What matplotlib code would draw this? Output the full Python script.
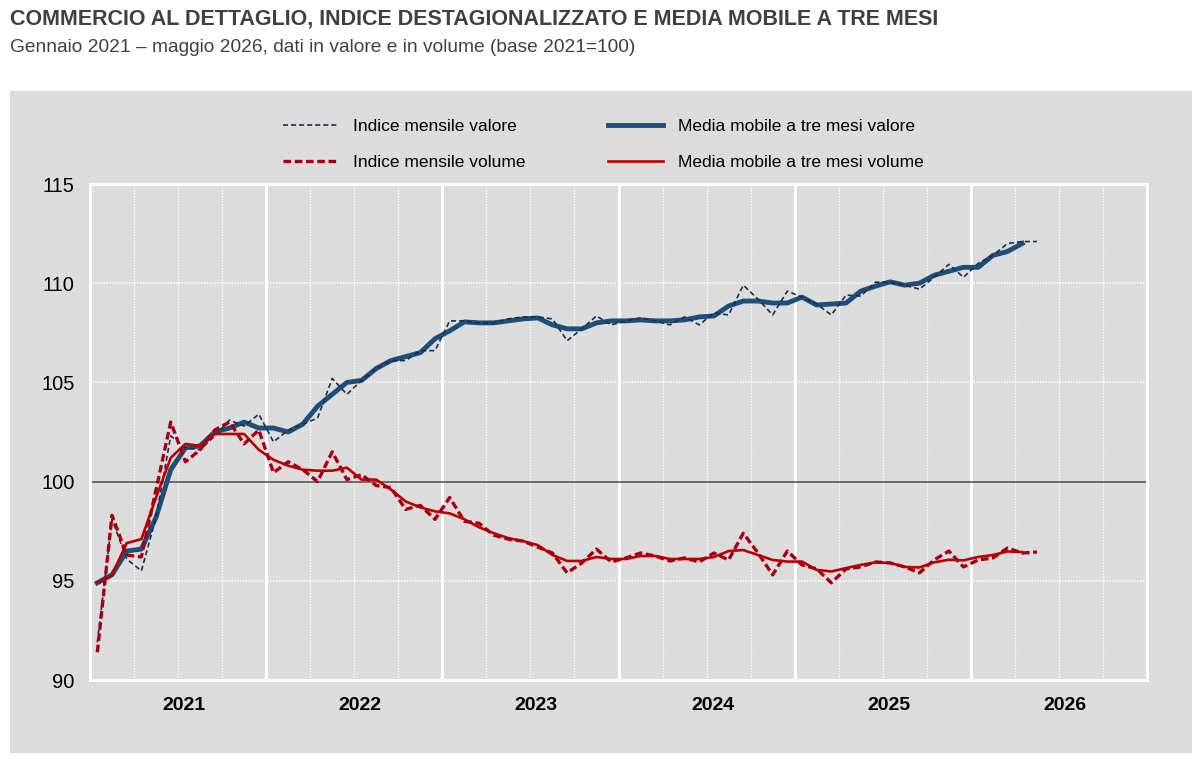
import matplotlib
matplotlib.use("Agg")
import matplotlib.pyplot as plt
from matplotlib.patches import Rectangle
import numpy as np

# ---------------- data ----------------
years = ["2021", "2022", "2023", "2024", "2025", "2026"]

valore_mensile = [
    91.9, 98.1, 96.1, 95.5, 98.2, 102.3, 101.7, 101.6, 102.3, 103.1, 102.8, 103.4,
    102.0, 102.6, 102.9, 103.2, 105.2, 104.4, 105.1, 105.7, 106.1, 106.1, 106.6, 106.6,
    108.1, 108.1, 108.0, 108.0, 108.2, 108.3, 108.3, 108.2, 107.1, 107.7, 108.35, 107.9,
    108.1, 108.25, 108.1, 107.9, 108.3, 107.9, 108.5, 108.4, 109.9, 109.2, 108.4, 109.6,
    109.3, 108.95, 108.4, 109.4, 109.35, 110.05, 110.05, 109.9, 109.7, 110.3, 110.95, 110.3,
    111.0, 111.4, 112.0, 112.1, 112.1,
]
valore_media = [
    94.9, 95.3, 96.5, 96.6, 98.2, 100.6, 101.7, 101.8, 102.5, 102.7, 103.0, 102.7,
    102.7, 102.5, 102.9, 103.8, 104.4, 105.0, 105.1, 105.7, 106.1, 106.3, 106.5, 107.2,
    107.6, 108.05, 108.0, 108.0, 108.1, 108.2, 108.25, 107.9, 107.7, 107.7, 108.0, 108.1,
    108.1, 108.15, 108.1, 108.1, 108.15, 108.3, 108.35, 108.85, 109.1, 109.1, 109.0, 109.0,
    109.3, 108.9, 108.95, 109.0, 109.6, 109.85, 110.07, 109.9, 110.0, 110.4, 110.6, 110.8,
    110.8, 111.4, 111.6, 112.0,
]
volume_mensile = [
    91.4, 98.3, 96.3, 96.2, 99.6, 103.0, 101.0, 101.6, 102.6, 103.0, 101.9, 102.6,
    100.45, 101.0, 100.6, 100.0, 101.5, 100.1, 100.35, 99.8, 99.7, 98.6, 98.8, 98.1,
    99.2, 98.0, 97.9, 97.3, 97.1, 97.0, 96.7, 96.4, 95.4, 95.9, 96.6, 95.95,
    96.15, 96.4, 96.25, 96.0, 96.15, 95.95, 96.4, 96.05, 97.4, 96.4, 95.3, 96.5,
    95.8, 95.6, 94.9, 95.6, 95.7, 95.95, 95.9, 95.7, 95.4, 96.05, 96.5, 95.7,
    96.05, 96.15, 96.65, 96.4, 96.45,
]
volume_media = [
    94.9, 95.3, 96.9, 97.1, 99.2, 101.2, 101.9, 101.8, 102.4, 102.4, 102.4, 101.6,
    101.1, 100.8, 100.6, 100.55, 100.55, 100.7, 100.1, 100.1, 99.6, 99.0, 98.7, 98.5,
    98.4, 98.1, 97.7, 97.4, 97.15, 97.0, 96.8, 96.3, 96.0, 96.0, 96.2, 96.1,
    96.1, 96.25, 96.25, 96.1, 96.1, 96.1, 96.2, 96.5, 96.55, 96.3, 96.05, 95.97,
    95.97, 95.55, 95.47, 95.64, 95.8, 95.93, 95.9, 95.7, 95.67, 95.93, 96.06, 96.03,
    96.2, 96.3, 96.48, 96.45,
]

labels = [
    "Indice mensile valore",
    "Indice mensile volume",
    "Media mobile a tre mesi valore",
    "Media mobile a tre mesi volume",
]
title = "COMMERCIO AL DETTAGLIO, INDICE DESTAGIONALIZZATO E MEDIA MOBILE A TRE MESI"
subtitle = "Gennaio 2021 \u2013 maggio 2026, dati in valore e in volume (base 2021=100)"

# ---------------- style ----------------
plt.rcParams["font.family"] = ["Liberation Sans", "DejaVu Sans"]
plt.rcParams["lines.scale_dashes"] = False

W, H = 1200, 760
fig = plt.figure(figsize=(W / 100, H / 100), dpi=100, facecolor="white")

PANEL = "#DCDCDC"
fig.patches.append(Rectangle((10 / W, 1 - 753 / H), 1182 / W, (753 - 91) / H,
                             transform=fig.transFigure, facecolor=PANEL,
                             edgecolor="none", zorder=-10))

fig.text(10 / W, 1 - 19 / H, title, fontsize=15.5, fontweight="bold", color="#404040",
         ha="left", va="center")
fig.text(10 / W, 1 - 48 / H, subtitle, fontsize=13.8, color="#404040",
         ha="left", va="center")

left, right, top, bottom = 90, 1147, 184, 680
ax = fig.add_axes([left / W, 1 - bottom / H, (right - left) / W, (bottom - top) / H])
ax.set_zorder(2)
ax.set_facecolor(PANEL)
for s in ax.spines.values():
    s.set_color("white")
    s.set_linewidth(2.2)

n_months = len(years) * 12
ax.set_xlim(0, n_months)
ax.set_ylim(90, 115)

# gridlines
for m in range(3, n_months, 3):
    if m % 12 == 0:
        ax.axvline(m, color="white", lw=2.2, zorder=1)
    else:
        ax.axvline(m, color="white", lw=1.0, ls=(0, (1, 1)), zorder=1)
for yv in (95, 105, 110):
    ax.axhline(yv, color="white", lw=1.2, ls=(0, (1, 1)), zorder=1)
ax.axhline(100, color="#4A4A4A", lw=1.1, zorder=1.5)

x_m = np.arange(len(valore_mensile)) + 0.5
x_a = np.arange(len(valore_media)) + 0.5

BLUE_MA = "#1F4E79"
BLUE_D = "#1A2F4F"
RED_MA = "#C00000"
RED_D = "#A80010"

l1, = ax.plot(x_a, valore_media, color=BLUE_MA, lw=3.5, zorder=2, solid_joinstyle="round")
l2, = ax.plot(x_m, valore_mensile, color=BLUE_D, lw=1.2, dashes=(3.6, 2.2), zorder=3)
l3, = ax.plot(x_a, volume_media, color=RED_MA, lw=1.9, zorder=4, solid_joinstyle="round")
l4, = ax.plot(x_m, volume_mensile, color=RED_D, lw=2.4, dashes=(5.5, 2.6), zorder=5)

ax.set_yticks([90, 95, 100, 105, 110, 115])
ax.set_yticklabels(["90", "95", "100", "105", "110", "115"])
ax.set_xticks([6.4 + 12 * i for i in range(len(years))])
ax.set_xticklabels(years, fontweight="bold")
ax.tick_params(axis="y", length=0, pad=11, labelsize=14.5, labelcolor="black")
ax.tick_params(axis="x", length=0, pad=12, labelsize=14, labelcolor="black")

fs_leg = 12.5
leg = fig.legend([l2, l4, l1, l3], labels, ncol=2, frameon=False,
                 loc="center left", bbox_to_anchor=(283 / W, 1 - 144.5 / H),
                 bbox_transform=fig.transFigure, fontsize=fs_leg,
                 handlelength=3.15, handletextpad=0.86, labelspacing=1.2,
                 columnspacing=4.8, borderpad=0, borderaxespad=0)

fig.savefig("out.png", dpi=100, facecolor="white")
